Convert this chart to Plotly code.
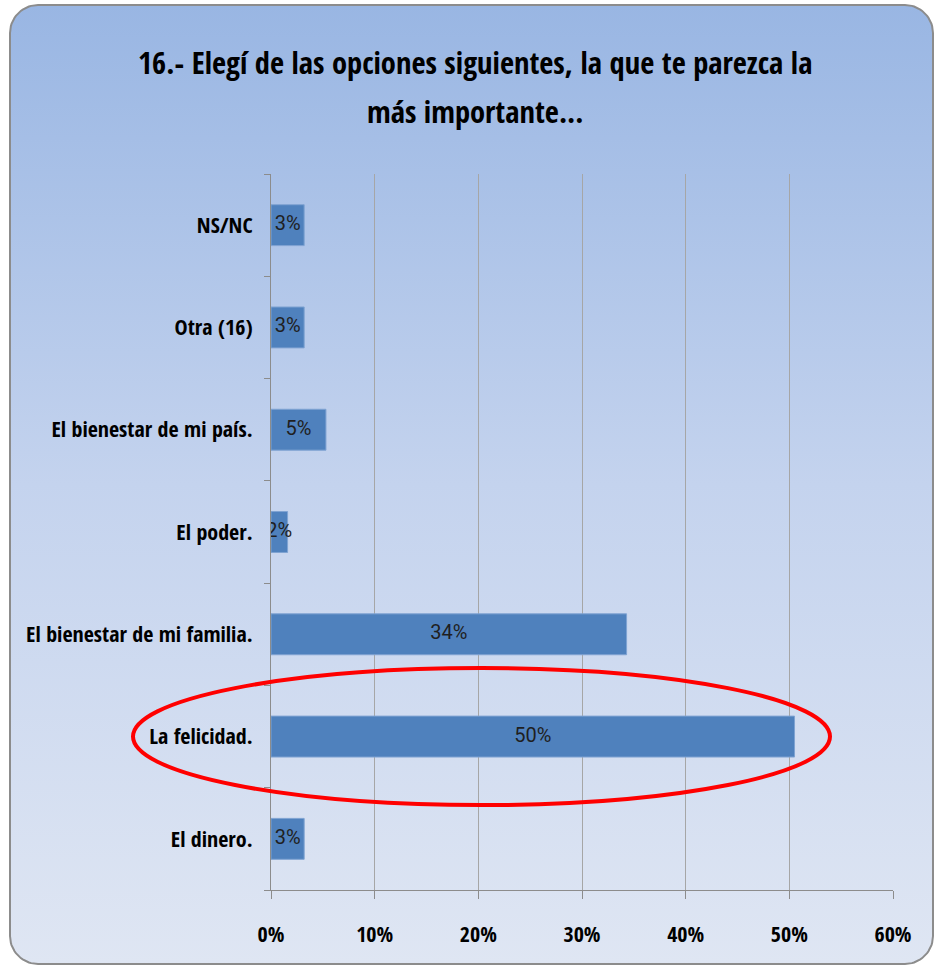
import numpy as np
import plotly.graph_objects as go

# ---- data ----
categories = ["El dinero.", "La felicidad.", "El bienestar de mi familia.",
              "El poder.", "El bienestar de mi país.", "Otra (16)", "NS/NC"]
values = [0.032, 0.505, 0.343, 0.016, 0.053, 0.032, 0.032]
value_labels = ["3%", "50%", "34%", "2%", "5%", "3%", "3%"]
highlight = "La felicidad."
title_lines = ["16.- Elegí de las opciones siguientes, la que te parezca la",
               "más importante..."]

W, H = 940, 967
FONT = "Noto Sans Condensed, Open Sans Condensed, Roboto Condensed, Lato, sans-serif"
LABEL_FONT = "Roboto, Liberation Sans, sans-serif"

# rounded background panel (pixel coords, y up)
x0, x1, ytop, ybot, r = 10, 933, H - 5, 3, 28
def arc(cx, cy, a0, a1):
    t = np.linspace(a0, a1, 20)
    return cx + r * np.cos(t), cy + r * np.sin(t)
pts = [arc(x1 - r, ytop - r, 0, np.pi / 2), arc(x0 + r, ytop - r, np.pi / 2, np.pi),
       arc(x0 + r, ybot + r, np.pi, 1.5 * np.pi), arc(x1 - r, ybot + r, 1.5 * np.pi, 2 * np.pi)]
px = np.concatenate([p[0] for p in pts] + [[pts[0][0][0]]])
py = np.concatenate([p[1] for p in pts] + [[pts[0][1][0]]])

fig = go.Figure()
fig.add_trace(go.Scatter(
    x=px, y=py, mode="lines", fill="toself",
    line=dict(color="#8c8c8c", width=2),
    fillgradient=dict(type="vertical", start=ybot, stop=ytop,
                      colorscale=[[0, "#dfe6f3"], [0.5, "#c4d3ee"], [1, "#99b6e3"]]),
    xaxis="x", yaxis="y", hoverinfo="skip", showlegend=False))

fig.add_trace(go.Bar(
    y=categories, x=values, orientation="h", width=0.4,
    marker=dict(color="#4f81bd", line=dict(color="#7fa3d2", width=1)),
    xaxis="x2", yaxis="y2", hoverinfo="skip", showlegend=False))

fig.add_trace(go.Scatter(
    y=categories, x=[v / 2 for v in values], mode="text", text=value_labels,
    textfont=dict(family=LABEL_FONT, size=20, color="#1f1f1f", weight="normal"),
    xaxis="x2", yaxis="y2", hoverinfo="skip", showlegend=False))

px0, px1, py0, py1 = 271, 893, 174, 890
hi = categories.index(highlight)

fig.update_layout(
    width=W, height=H, margin=dict(l=0, r=0, t=0, b=0, autoexpand=False),
    paper_bgcolor="white", plot_bgcolor="rgba(0,0,0,0)",
    xaxis=dict(domain=[0, 1], range=[0, W], visible=False, fixedrange=True, automargin=False),
    yaxis=dict(domain=[0, 1], range=[0, H], visible=False, fixedrange=True, automargin=False),
    xaxis2=dict(domain=[px0 / W, px1 / W], anchor="y2", range=[0, 0.6], dtick=0.1,
                tickformat=".0%", showgrid=True, gridcolor="#a6a6a6", gridwidth=1,
                showline=True, linecolor="#8c8c8c", linewidth=1,
                ticks="outside", ticklen=8, tickcolor="#8c8c8c", automargin=False,
                tickfont=dict(family=FONT, size=22, color="black", weight="bold"),
                ticklabelstandoff=17, zeroline=False, fixedrange=True),
    yaxis2=dict(domain=[1 - py1 / H, 1 - py0 / H], anchor="x2", automargin=False,
                categoryorder="array", categoryarray=categories,
                range=[-0.5, len(categories) - 0.5], fixedrange=True,
                showline=True, linecolor="#8c8c8c", linewidth=1,
                ticks="outside", ticklen=6, tickcolor="#8c8c8c", tickson="boundaries",
                tickfont=dict(family=FONT, size=22, color="black", weight="bold"),
                ticklabelstandoff=13, showgrid=False),
    shapes=[
        dict(type="rect", xref="x2 domain", yref="y2 domain", x0=0, x1=1, y0=0, y1=1,
             fillcolor="white", line=dict(width=0), layer="below"),
        dict(type="circle", xref="paper", yref="y2",
             x0=133 / W, x1=830 / W, y0=hi - 0.67, y1=hi + 0.67,
             line=dict(color="red", width=4), layer="above"),
    ],
    annotations=[dict(text=t, xref="paper", yref="paper", x=475 / W, y=1 - yy / H,
                      xanchor="center", yanchor="middle",
                      showarrow=False, align="center",
                      font=dict(family=FONT, size=30.5, color="black", weight="bold"))
                 for t, yy in zip(title_lines, [62, 111])],
)

fig.write_html("out.html", config={"displayModeBar": False, "staticPlot": True},
               post_script="document.body.style.margin='0';")
